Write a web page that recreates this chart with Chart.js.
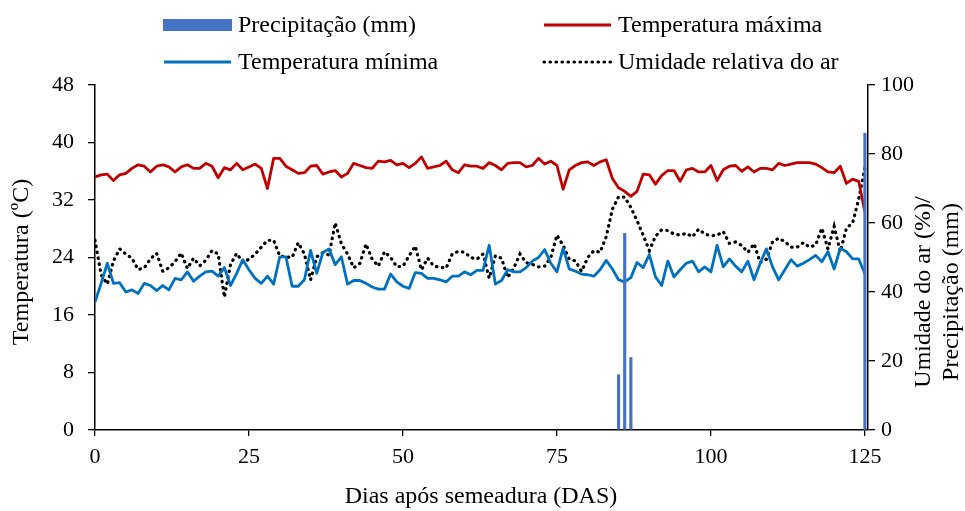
<!DOCTYPE html>
<html>
<head>
<meta charset="utf-8">
<script src="https://cdn.jsdelivr.net/npm/chart.js@4.4.1/dist/chart.umd.min.js"></script>
<style>
  html, body { margin: 0; padding: 0; background: #fff; }
  #wrap { width: 965px; height: 511px; }
</style>
</head>
<body>
<div id="wrap"><canvas id="climateChart" width="965" height="511"></canvas></div>
<script>
// Daily weather over the crop cycle

const DAYS = Array.from({ length: 126 }, (_, i) => i);

const TMAX = [
  35.2, 35.5, 35.6, 34.7, 35.5, 35.7, 36.4, 36.9, 36.7, 35.9,
  36.7, 36.9, 36.6, 35.9, 36.6, 36.9, 36.4, 36.4, 37.1, 36.7,
  35.1, 36.5, 36.2, 37.1, 36.2, 36.6, 37.0, 36.4, 33.6, 37.8,
  37.8, 36.7, 36.2, 35.7, 35.8, 36.7, 36.8, 35.6, 35.9, 36.1,
  35.2, 35.7, 37.1, 36.8, 36.5, 36.4, 37.4, 37.3, 37.5, 36.9,
  37.1, 36.5, 37.1, 38.0, 36.4, 36.6, 36.8, 37.4, 36.2, 35.8,
  36.9, 36.7, 36.7, 36.4, 37.2, 36.8, 36.2, 37.1, 37.2, 37.2,
  36.6, 36.8, 37.8, 37.0, 37.4, 36.8, 33.5, 36.2, 36.8, 37.2,
  37.3, 36.8, 37.3, 37.6, 35.0, 33.7, 33.2, 32.5, 33.2, 35.6,
  35.5, 34.2, 35.4, 36.1, 36.1, 34.6, 36.2, 36.4, 35.9, 35.9,
  36.8, 34.7, 36.2, 36.7, 36.8, 36.0, 36.6, 35.9, 36.4, 36.4,
  36.2, 37.1, 36.8, 37.0, 37.2, 37.2, 37.2, 37.0, 36.5, 35.9,
  35.8, 36.7, 34.3, 34.9, 34.6, 30.3,
];

const TMIN = [
  17.8, 20.4, 23.2, 20.4, 20.5, 19.2, 19.5, 19.0, 20.4, 20.1,
  19.4, 20.1, 19.5, 21.1, 20.9, 22.0, 20.7, 21.4, 22.0, 22.1,
  21.4, 22.6, 20.1, 21.8, 23.7, 22.3, 21.1, 20.4, 21.4, 20.3,
  24.1, 24.1, 20.0, 20.0, 20.9, 25.0, 21.8, 24.7, 25.2, 23.0,
  24.1, 20.3, 20.8, 20.8, 20.4, 19.9, 19.6, 19.6, 21.7, 20.6,
  20.0, 19.7, 21.9, 21.8, 21.1, 21.1, 20.9, 20.6, 21.4, 21.4,
  22.0, 21.6, 22.2, 22.2, 25.7, 20.3, 20.8, 22.3, 22.0, 22.0,
  22.6, 23.5, 24.0, 25.1, 23.2, 22.0, 25.3, 22.4, 22.1, 21.7,
  21.6, 21.4, 22.3, 23.6, 22.4, 20.9, 20.6, 21.2, 23.3, 22.6,
  24.4, 21.3, 20.1, 23.5, 21.3, 22.3, 23.2, 23.5, 22.0, 22.7,
  22.0, 25.7, 22.7, 23.8, 22.8, 22.0, 23.5, 20.9, 23.2, 25.2,
  22.7, 20.9, 22.3, 23.7, 22.8, 23.2, 23.7, 24.3, 23.4, 24.8,
  22.4, 25.3, 24.8, 23.8, 23.8, 21.7,
];

const HUMIDITY = [
  55.0, 45.0, 42.3, 49.0, 52.5, 51.0, 49.8, 46.5, 47.0, 49.6,
  51.2, 46.0, 47.0, 48.8, 51.3, 46.8, 49.8, 47.6, 49.2, 52.0,
  51.0, 38.5, 48.0, 51.2, 48.6, 49.5, 51.0, 53.0, 55.0, 55.0,
  50.4, 50.2, 50.0, 54.3, 51.0, 43.5, 50.2, 51.4, 50.7, 60.0,
  54.0, 51.0, 47.0, 48.3, 53.9, 49.5, 47.5, 51.7, 50.0, 47.3,
  47.5, 50.5, 53.3, 46.4, 49.8, 47.5, 47.2, 46.9, 51.0, 51.8,
  51.5, 50.0, 49.5, 51.0, 44.0, 50.5, 49.8, 44.2, 47.0, 51.0,
  48.5, 48.0, 47.3, 47.5, 50.0, 56.5, 53.5, 49.5, 49.0, 46.0,
  50.0, 52.0, 51.5, 56.0, 64.0, 67.6, 67.5, 64.5, 60.7, 56.5,
  52.0, 56.2, 58.0, 57.8, 56.8, 56.5, 57.0, 56.0, 58.2, 56.8,
  56.3, 56.5, 57.5, 54.1, 54.5, 53.5, 51.5, 54.0, 48.5, 49.5,
  54.5, 55.6, 54.6, 53.0, 53.0, 54.3, 53.0, 53.6, 58.5, 52.5,
  59.0, 51.7, 58.5, 60.0, 67.0, 76.0,
];

const RAIN_DAYS = [85, 86, 87, 125];
const RAIN_MM = [16, 57, 21, 86];

const X_TICKS = [0, 25, 50, 75, 100, 125];

const SERIF = '"Liberation Serif", "Times New Roman", serif';

const toPoints = (xs, ys) => ys.map((y, i) => ({ x: xs[i], y }));

// legend + axis titles drawn by hand so the layout matches the figure
const overlayText = {
  id: "overlayText",
  afterDraw(chart) {
    const { ctx } = chart;
    const ds = chart.data.datasets;
    ctx.save();
    ctx.fillStyle = "#000";
    ctx.textBaseline = "middle";

    const items = [
      { d: ds[0], x: 163, y: 25, box: true },
      { d: ds[1], x: 543, y: 25 },
      { d: ds[2], x: 163, y: 62 },
      { d: ds[3], x: 543, y: 62 },
    ];
    items.forEach((it) => {
      if (it.box) {
        ctx.fillStyle = it.d.backgroundColor;
        ctx.fillRect(it.x, it.y - 6, 69, 12);
      } else {
        ctx.save();
        ctx.strokeStyle = it.d.borderColor;
        ctx.lineWidth = it.d.borderWidth;
        ctx.lineCap = it.d.borderCapStyle || "butt";
        ctx.setLineDash(it.d.borderDash || []);
        ctx.beginPath();
        ctx.moveTo(it.x + 1, it.y);
        ctx.lineTo(it.x + 68, it.y);
        ctx.stroke();
        ctx.restore();
      }
      ctx.fillStyle = "#000";
      ctx.font = `24px ${SERIF}`;
      ctx.textAlign = "left";
      ctx.fillText(it.d.label, it.x + 75, it.y + 1);
    });

    ctx.font = `24px ${SERIF}`;
    ctx.textAlign = "center";
    ctx.fillText("Dias após semeadura (DAS)", 481, 497);

    const vertical = (text, x, y) => {
      ctx.save();
      ctx.translate(x, y);
      ctx.rotate(-Math.PI / 2);
      ctx.fillText(text, 0, 0);
      ctx.restore();
    };
    vertical("Temperatura (ºC)", 22, 262);
    vertical("Umidade do ar (%)/", 924, 292);
    vertical("Precipitação (mm)", 952, 292);
    ctx.restore();
  },
};

const axisTicks = { color: "#000", font: { family: SERIF, size: 22 } };
const axisGrid = { drawOnChartArea: false, drawTicks: true, color: "#000", lineWidth: 1.3, offset: false };
const axisBorder = { display: true, color: "#000", width: 1.5 };

const config = {
  type: "bar",
  data: {
    datasets: [
      {
        type: "bar",
        label: "Precipitação (mm)",
        data: toPoints(RAIN_DAYS, RAIN_MM),
        yAxisID: "y2",
        backgroundColor: "#4472C4",
        barThickness: 2.5,
        order: 0,
      },
      {
        type: "line",
        label: "Temperatura máxima",
        data: toPoints(DAYS, TMAX),
        yAxisID: "y",
        borderColor: "#C00000",
        borderWidth: 2.8,
        pointRadius: 0,
        borderJoinStyle: "round",
        order: 1,
      },
      {
        type: "line",
        label: "Temperatura mínima",
        data: toPoints(DAYS, TMIN),
        yAxisID: "y",
        borderColor: "#0070C0",
        borderWidth: 2.8,
        pointRadius: 0,
        borderJoinStyle: "round",
        order: 1,
      },
      {
        type: "line",
        label: "Umidade relativa do ar",
        data: toPoints(DAYS, HUMIDITY),
        yAxisID: "y2",
        borderColor: "#000",
        borderWidth: 3.2,
        borderDash: [0.5, 5.5],
        borderCapStyle: "round",
        pointRadius: 0,
        order: 1,
      },
    ],
  },
  options: {
    responsive: false,
    animation: false,
    events: [],
    layout: { padding: { top: 85, left: 0, right: 0, bottom: 0 } },
    plugins: {
      legend: { display: false },
      tooltip: { enabled: false },
    },
    scales: {
      x: {
        type: "linear",
        min: 0,
        max: 125.5,
        offset: false,
        afterBuildTicks: (s) => {
          s.ticks = X_TICKS.map((v) => ({ value: v }));
        },
        ticks: { ...axisTicks, padding: 8, maxRotation: 0 },
        grid: { ...axisGrid, tickLength: 6 },
        border: axisBorder,
        afterFit: (s) => { s.height = 81; },
      },
      y: {
        position: "left",
        min: 0,
        max: 48,
        ticks: { ...axisTicks, stepSize: 8, padding: 14 },
        grid: { ...axisGrid, tickLength: 7 },
        border: axisBorder,
        afterFit: (s) => { s.width = 95; },
      },
      y2: {
        position: "right",
        min: 0,
        max: 100,
        ticks: { ...axisTicks, stepSize: 20, padding: 6 },
        grid: { ...axisGrid, tickLength: 7 },
        border: axisBorder,
        afterFit: (s) => { s.width = 97; },
      },
    },
  },
  plugins: [overlayText],
};

new Chart(document.getElementById("climateChart").getContext("2d"), config);
</script>
</body>
</html>
